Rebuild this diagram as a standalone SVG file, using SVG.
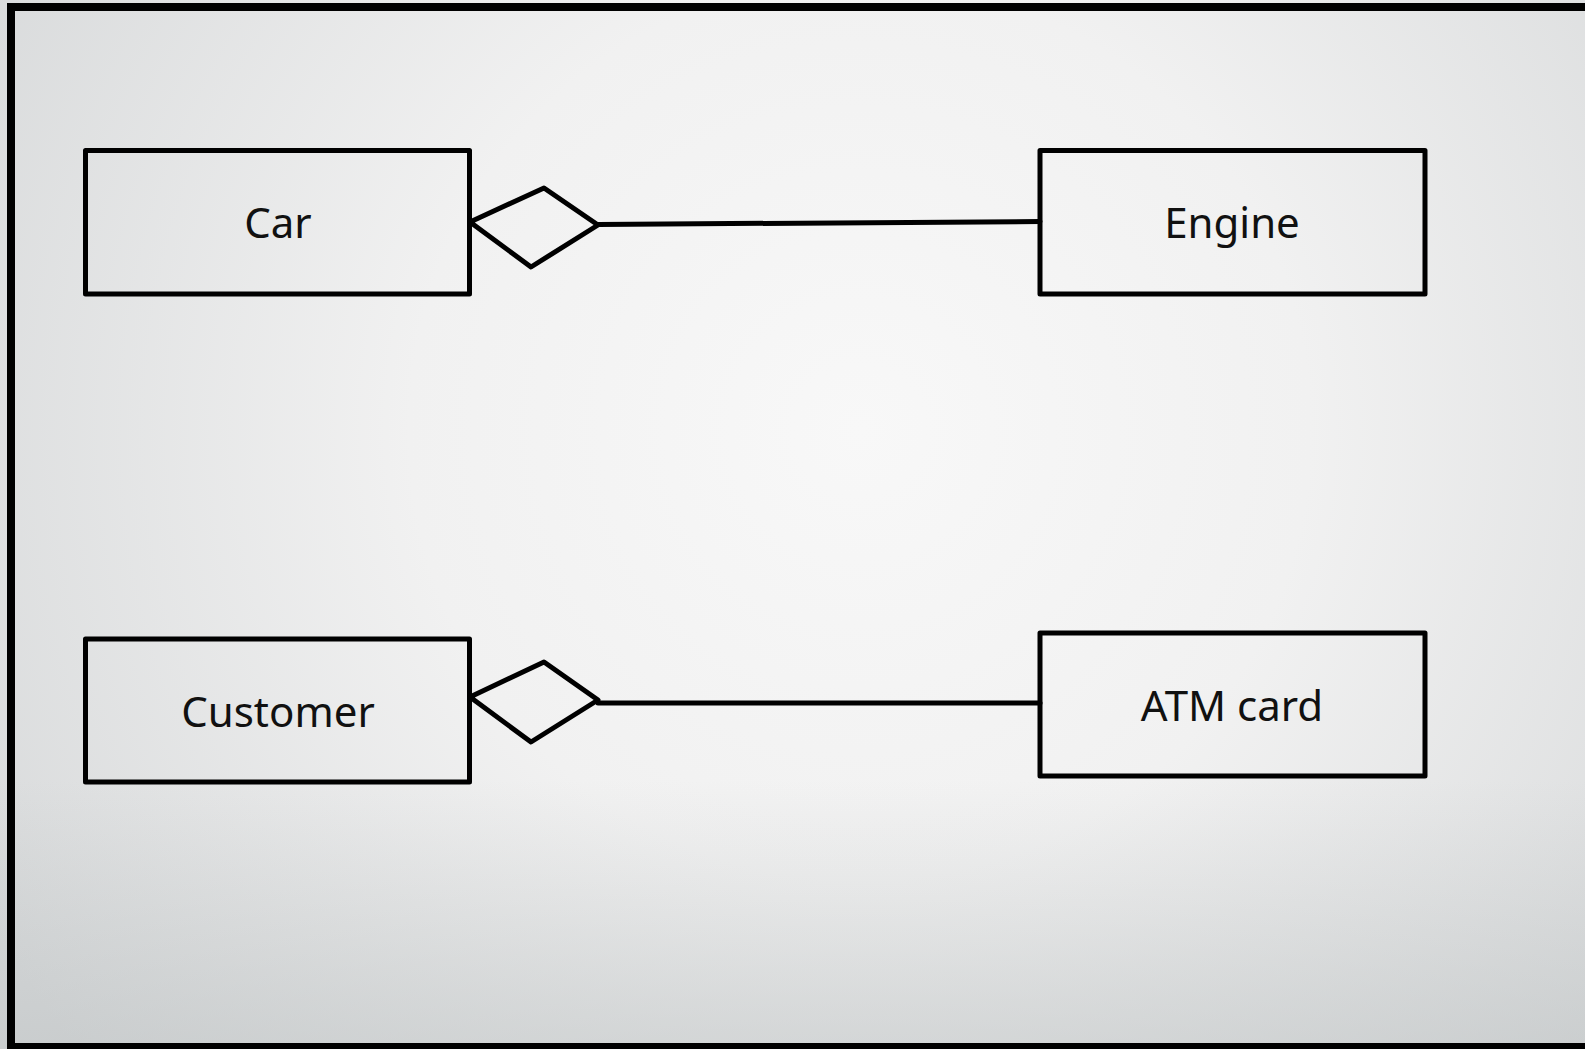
<svg xmlns="http://www.w3.org/2000/svg" width="1585" height="1049" viewBox="0 0 1585 1049">
  <defs>
    <radialGradient id="bg" gradientUnits="userSpaceOnUse" cx="860" cy="430" r="1000">
      <stop offset="0" stop-color="#f8f8f8"/>
      <stop offset="0.45" stop-color="#f1f1f1"/>
      <stop offset="1" stop-color="#d8dadb"/>
    </radialGradient>
    <linearGradient id="shade" gradientUnits="userSpaceOnUse" x1="0" y1="780" x2="0" y2="1049">
      <stop offset="0" stop-color="#b8bdbe" stop-opacity="0"/>
      <stop offset="1" stop-color="#b8bdbe" stop-opacity="0.45"/>
    </linearGradient>
    <style>
      .box { fill: none; stroke: #000; stroke-width: 5; stroke-linejoin: round; }
      .frame { fill: none; stroke: #000; stroke-width: 8; }
      .conn { fill: none; stroke: #000; stroke-width: 5; stroke-linejoin: round; stroke-linecap: round; }
      .label { font-family: "Noto Sans", "Open Sans", sans-serif; font-size: 42px; fill: #111; text-anchor: middle; }
    </style>
  </defs>

  <!-- background -->
  <rect x="0" y="0" width="1585" height="1049" fill="url(#bg)"/>
  <rect x="0" y="0" width="1585" height="1049" fill="url(#shade)"/>

  <!-- outer frame -->
  <rect class="frame" x="11" y="7" width="1600" height="1040"/>

  <!-- nodes -->
  <g id="car">
    <rect class="box" x="85.5" y="150.5" width="384" height="143.5"/>
    <text class="label" x="278" y="238">Car</text>
  </g>
  <g id="engine">
    <rect class="box" x="1040" y="150.5" width="385" height="143.5"/>
    <text class="label" x="1232" y="238">Engine</text>
  </g>
  <g id="customer">
    <rect class="box" x="85.5" y="639" width="384" height="143"/>
    <text class="label" x="278" y="727">Customer</text>
  </g>
  <g id="atm-card">
    <rect class="box" x="1040" y="633" width="385" height="143"/>
    <text class="label" x="1232" y="721">ATM card</text>
  </g>

  <!-- connectors: aggregation (hollow diamond at the whole) -->
  <g id="connectors">
    <polygon class="conn" points="470,222 544,188 598,225 531,267"/>
    <line class="conn" x1="598" y1="224.5" x2="1040" y2="221.5"/>
    <polygon class="conn" points="470,697 544,662 598,700 531,742"/>
    <line class="conn" x1="598" y1="703" x2="1040" y2="703"/>
  </g>
</svg>
